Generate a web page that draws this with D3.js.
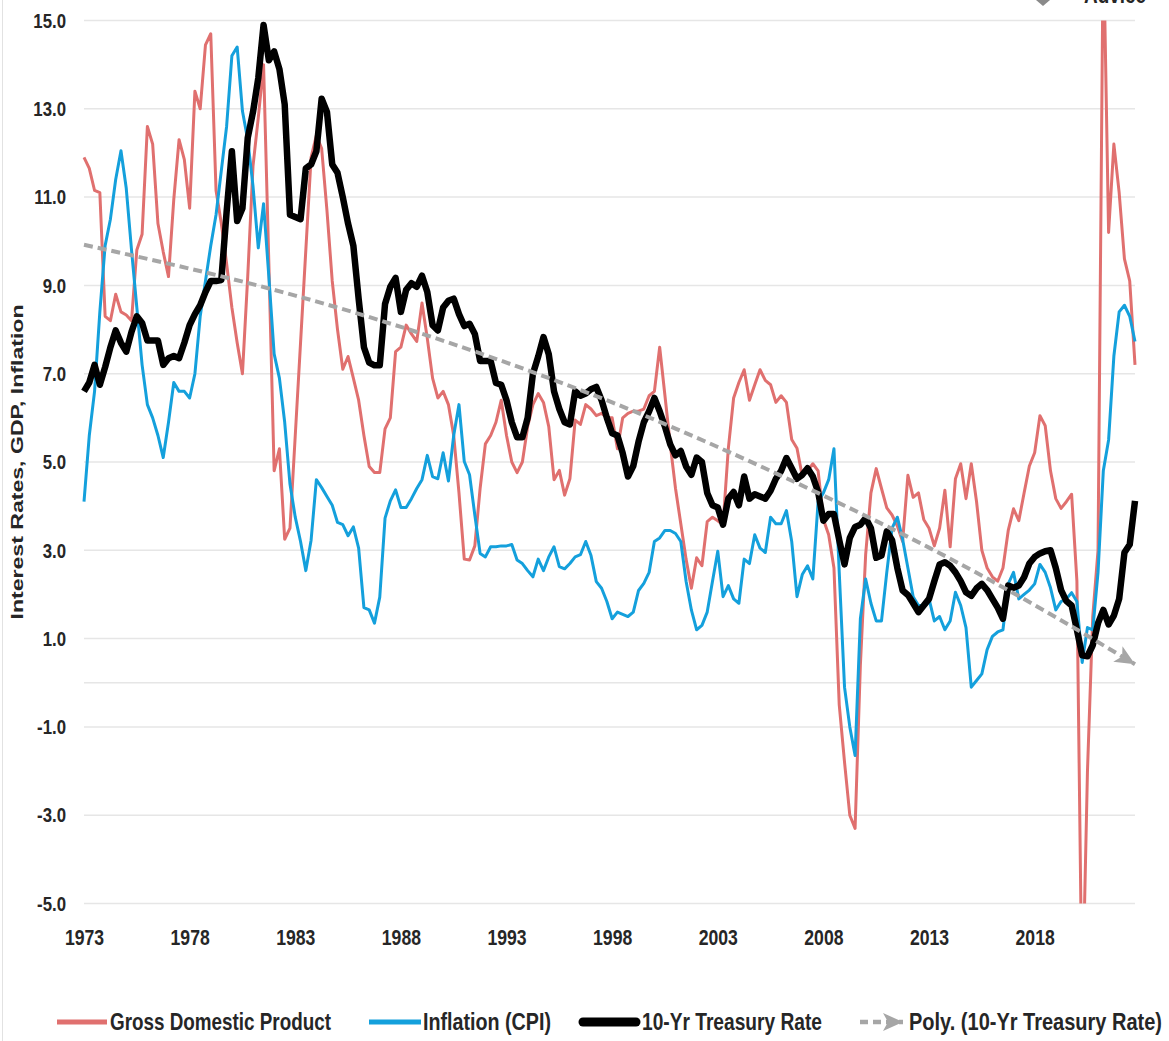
<!DOCTYPE html>
<html>
<head>
<meta charset="utf-8">
<script src="https://cdn.jsdelivr.net/npm/d3@7"></script>
<style>
  html, body { margin: 0; padding: 0; background: #fff; }
  svg { display: block; }
  text { font-family: "Liberation Sans", Arial, sans-serif; font-weight: bold; fill: #262626; }
  .xaxis .tick text { font-size: 22px; }
  .yaxis .tick text { font-size: 21px; }
  .legend text { font-size: 24px; }
  .ytitle { font-size: 16px; }
</style>
</head>
<body>
<div id="container"></div>
<script>
// quarterly data, 1973 Q1 .. 2022 Q4
var startYear = 1973
var yearLabels = ["1973", "1978", "1983", "1988", "1993", "1998", "2003", "2008", "2013", "2018"]
var yTicks = [15, 13, 11, 9, 7, 5, 3, 1, -1, -3, -5]
var seriesNames = ["Gross Domestic Product", "Inflation (CPI)", "10-Yr Treasury Rate", "Poly. (10-Yr Treasury Rate)"]

var gdp = [
  11.9, 11.65, 11.15, 11.1,   // 1973
  8.3, 8.2, 8.8, 8.4,
  8.33, 8.2, 9.8, 10.16,
  12.6, 12.2, 10.4, 9.76,
  9.2, 10.95, 12.3, 11.85,
  10.75, 13.4, 13.0, 14.45,   // 1978
  14.7, 11.15, 10.4, 9.5,
  8.5, 7.7, 7.0, 9.2,
  11.7, 12.8, 14.0, 9.5,
  4.8, 5.3, 3.25, 3.5,
  5.6, 7.7, 9.8, 11.9,        // 1983
  12.4, 12.1, 10.7, 9.1,
  8.0, 7.1, 7.39, 6.9,
  6.4, 5.6, 4.9, 4.76,
  4.76, 5.75, 6.0, 7.5,
  7.6, 8.1, 7.9, 7.73,        // 1988
  8.6, 7.8, 6.9, 6.45,
  6.6, 6.3, 5.6, 4.3,
  2.8, 2.78, 3.1, 4.4,
  5.41, 5.6, 5.9, 6.4,
  5.6, 5.0, 4.76, 5.0,        // 1993
  5.8, 6.3, 6.55, 6.35,
  5.8, 4.6, 4.81, 4.25,
  4.62, 5.95, 5.85, 6.3,
  6.2, 6.05, 6.1, 6.0,
  6.0, 5.3, 6.0, 6.1,         // 1998
  6.15, 6.15, 6.2, 6.5,
  6.6, 7.6, 6.5, 5.4,
  4.4, 3.6, 2.8, 2.14,
  2.83, 2.65, 3.65, 3.75,
  3.67, 3.58, 5.31, 6.45,     // 2003
  6.8, 7.09, 6.4, 6.75,
  7.09, 6.85, 6.75, 6.35,
  6.5, 6.35, 5.51, 5.31,
  4.68, 4.8, 4.96, 4.8,
  3.7, 3.35, 2.6, -0.5,       // 2008
  -1.8, -3.0, -3.3, 0.4,
  2.9, 4.3, 4.85, 4.4,
  3.96, 3.8, 3.55, 3.2,
  4.7, 4.2, 4.3, 3.7,
  3.5, 3.1, 3.5, 4.36,        // 2013
  3.08, 4.62, 4.96, 4.17,
  4.96, 4.1, 3.0, 2.6,
  2.4, 2.3, 2.6, 3.45,
  3.94, 3.67, 4.3, 4.91,
  5.21, 6.05, 5.82, 4.8,      // 2018
  4.17, 3.95, 4.1, 4.27,
  2.3, -7.5, -2.0, 1.5,
  3.0, 17.0, 10.2, 12.2,
  11.1, 9.6, 9.1, 7.2
]

var cpi = [
  4.1, 5.6, 6.6, 8.4,         // 1973
  9.9, 10.5, 11.4, 12.05,
  11.2, 9.8, 8.5, 7.2,
  6.3, 6.0, 5.6, 5.1,
  5.9, 6.8, 6.6, 6.6,
  6.45, 7.0, 8.3, 9.1,        // 1978
  9.9, 10.6, 11.6, 12.6,
  14.2, 14.4, 12.95, 12.3,
  11.25, 9.85, 10.85, 9.2,
  7.45, 6.9, 5.9, 4.5,
  3.75, 3.2, 2.54, 3.23,      // 1983
  4.6, 4.42, 4.22, 4.02,
  3.63, 3.58, 3.33, 3.53,
  3.05, 1.7, 1.65, 1.35,
  1.94, 3.73, 4.12, 4.37,
  3.97, 3.97, 4.17, 4.4,      // 1988
  4.6, 5.15, 4.67, 4.62,
  5.21, 4.57, 5.6, 6.3,
  5.01, 4.71, 3.8, 2.93,
  2.85, 3.08, 3.08, 3.1,
  3.1, 3.13, 2.78, 2.7,       // 1993
  2.54, 2.4, 2.8, 2.54,
  2.85, 3.08, 2.63, 2.58,
  2.7, 2.85, 2.9, 3.2,
  2.88, 2.29, 2.14, 1.84,
  1.45, 1.6, 1.55, 1.5,       // 1998
  1.6, 2.09, 2.25, 2.5,
  3.2, 3.28, 3.45, 3.45,
  3.38, 3.2, 2.3, 1.65,
  1.2, 1.3, 1.6, 2.3,
  2.98, 1.95, 2.2, 1.9,       // 2003
  1.8, 2.8, 2.7, 3.35,
  3.05, 2.95, 3.75, 3.6,
  3.6, 3.9, 3.2, 1.95,
  2.45, 2.65, 2.35, 4.1,
  4.3, 4.6, 5.3, 2.5,         // 2008
  -0.1, -1.0, -1.65, 1.45,
  2.35, 1.8, 1.4, 1.4,
  2.5, 3.5, 3.75, 3.25,
  2.6, 1.95, 1.75, 1.75,
  1.9, 1.4, 1.5, 1.2,         // 2013
  1.4, 2.05, 1.75, 1.25,
  -0.1, 0.05, 0.2, 0.75,
  1.05, 1.15, 1.2, 2.24,
  2.5, 1.9, 2.0, 2.1,
  2.24, 2.68, 2.5, 2.15,      // 2018
  1.65, 1.84, 1.9, 2.04,
  1.84, 0.46, 1.25, 1.2,
  2.5, 4.8, 5.5, 7.4,
  8.4, 8.55, 8.3, 7.73
]

var treasury = [
  6.6, 6.8, 7.2, 6.75,        // 1973
  7.15, 7.6, 7.98, 7.7,
  7.5, 7.95, 8.3, 8.15,
  7.75, 7.75, 7.75, 7.2,
  7.35, 7.4, 7.35, 7.7,
  8.1, 8.35, 8.55, 8.85,      // 1978
  9.1, 9.1, 9.12, 10.66,
  12.04, 10.46, 10.75, 12.34,
  12.93, 13.7, 14.9, 14.1,
  14.3, 13.9, 13.1, 10.6,
  10.55, 10.5, 11.65, 11.74,  // 1983
  12.04, 13.23, 12.93, 11.74,
  11.55, 11.0, 10.4, 9.9,
  8.7, 7.6, 7.25, 7.19,
  7.19, 8.58, 8.97, 9.17,
  8.4, 8.9, 9.05, 8.97,       // 1988
  9.22, 8.85, 8.1, 7.98,
  8.5, 8.65, 8.7, 8.35,
  8.08, 8.13, 7.9, 7.29,
  7.29, 7.29, 6.79, 6.75,
  6.4, 5.9, 5.56, 5.56,       // 1993
  6.0, 7.0, 7.39, 7.83,
  7.44, 6.6, 6.2, 5.9,
  5.85, 6.6, 6.5, 6.55,
  6.65, 6.7, 6.4, 6.0,
  5.65, 5.6, 5.2, 4.67,       // 1998
  4.91, 5.46, 5.9, 6.15,
  6.45, 6.15, 5.8, 5.4,
  5.15, 5.25, 4.9, 4.71,
  5.1, 5.0, 4.3, 4.02,
  3.97, 3.58, 4.17, 4.32,     // 2003
  4.02, 4.67, 4.17, 4.27,
  4.22, 4.17, 4.35, 4.62,
  4.8, 5.09, 4.86, 4.62,
  4.71, 4.86, 4.67, 4.32,
  3.67, 3.82, 3.82, 3.23,     // 2008
  2.68, 3.28, 3.53, 3.58,
  3.73, 3.5, 2.83, 2.88,
  3.43, 3.23, 2.6, 2.09,
  1.99, 1.8, 1.6, 1.75,
  1.9, 2.3, 2.68, 2.73,       // 2013
  2.65, 2.5, 2.3, 2.05,
  1.97, 2.14, 2.24, 2.1,
  1.9, 1.7, 1.45, 2.2,
  2.15, 2.2, 2.39, 2.7,
  2.85, 2.93, 2.98, 3.0,      // 2018
  2.6, 2.1, 1.85, 1.75,
  1.2, 0.62, 0.6, 0.85,
  1.35, 1.65, 1.32, 1.52,
  1.9, 2.95, 3.13, 4.12
]

// polynomial trend of the 10-yr rate, read at the label quarters
var trendQuarter = [0, 20, 40, 60, 80, 100, 120, 140, 160, 180, 199]
var trendValue = [9.92, 9.38, 8.77, 8.06, 7.25, 6.35, 5.34, 4.24, 3.06, 1.76, 0.42]

var colors = { gdp: "#E0706F", cpi: "#14A0DC", treasury: "#000000", trend: "#A6A6A6" }

var width = 1169, height = 1041
var plot = { left: 84, right: 1135, top: 20.5, bottom: 903.5 }
var narrow = 0.8 // squeeze factor to get a condensed bold face

function condense(sel, factor) {
  sel.each(function () {
    var w = this.getComputedTextLength()
    d3.select(this)
      .attr("textLength", w * factor)
      .attr("lengthAdjust", "spacingAndGlyphs")
  })
}

var svg = d3.select("#container").append("svg")
  .attr("width", width)
  .attr("height", height)

svg.append("rect").attr("width", width).attr("height", height).attr("fill", "#fff")

// faint chart border on the left
svg.append("line")
  .attr("x1", 2.5).attr("x2", 2.5).attr("y1", 0).attr("y2", height)
  .attr("stroke", "#e2e2e2").attr("stroke-width", 1)

var defs = svg.append("defs")
defs.append("clipPath").attr("id", "plotClip")
  .append("rect")
  .attr("x", plot.left - 4).attr("y", plot.top)
  .attr("width", plot.right - plot.left + 8).attr("height", plot.bottom - plot.top)

defs.append("marker")
  .attr("id", "arrowhead")
  .attr("viewBox", "0 0 10 10")
  .attr("refX", 10).attr("refY", 5)
  .attr("markerUnits", "userSpaceOnUse")
  .attr("markerWidth", 20).attr("markerHeight", 18)
  .attr("preserveAspectRatio", "none")
  .attr("orient", "auto")
  .append("path")
  .attr("d", "M0,0 L10,5 L0,10 L2.5,5 Z")
  .attr("fill", colors.trend)

var x = d3.scaleLinear().domain([0, gdp.length - 1]).range([plot.left, plot.right])
var y = d3.scaleLinear().domain([-5, 15]).range([plot.bottom, plot.top])

// gridlines (plus the zero line)
svg.append("g").attr("class", "grid")
  .selectAll("line")
  .data(yTicks.concat([0]))
  .enter().append("line")
  .attr("x1", plot.left).attr("x2", plot.right)
  .attr("y1", d => y(d)).attr("y2", d => y(d))
  .attr("stroke", "#e6e6e6")
  .attr("stroke-width", 1.5)

// axes
var yAxis = d3.axisLeft(y)
  .tickValues(yTicks)
  .tickFormat(d => d.toFixed(1))
  .tickSize(0)
  .tickPadding(18)

svg.append("g")
  .attr("class", "yaxis")
  .attr("transform", "translate(" + plot.left + ",0)")
  .call(yAxis)
  .call(g => g.select(".domain").remove())

var xAxis = d3.axisBottom(x)
  .tickValues(yearLabels.map((d, i) => i * 20))
  .tickFormat((d, i) => yearLabels[i])
  .tickSize(0)
  .tickPadding(26)

svg.append("g")
  .attr("class", "xaxis")
  .attr("transform", "translate(0," + plot.bottom + ")")
  .call(xAxis)
  .call(g => g.select(".domain").remove())

svg.selectAll(".tick text").attr("fill", "#262626").call(condense, narrow)

svg.append("text")
  .attr("class", "ytitle")
  .attr("transform", "translate(23,462) rotate(-90)")
  .attr("text-anchor", "middle")
  .attr("textLength", 315)
  .attr("lengthAdjust", "spacingAndGlyphs")
  .text("Interest Rates, GDP, Inflation")

// series
var line = d3.line()
  .x((d, i) => x(i))
  .y(d => y(d))

var lines = svg.append("g").attr("clip-path", "url(#plotClip)")

lines.append("path")
  .datum(gdp)
  .attr("d", line)
  .attr("fill", "none")
  .attr("stroke", colors.gdp)
  .attr("stroke-width", 3)
  .attr("stroke-linejoin", "round")

lines.append("path")
  .datum(cpi)
  .attr("d", line)
  .attr("fill", "none")
  .attr("stroke", colors.cpi)
  .attr("stroke-width", 3)
  .attr("stroke-linejoin", "round")

lines.append("path")
  .datum(treasury)
  .attr("d", line)
  .attr("fill", "none")
  .attr("stroke", colors.treasury)
  .attr("stroke-width", 6.5)
  .attr("stroke-linejoin", "round")

var trendLine = d3.line()
  .x((d, i) => x(trendQuarter[i]))
  .y(d => y(d))
  .curve(d3.curveNatural)

lines.append("path")
  .datum(trendValue)
  .attr("d", trendLine)
  .attr("fill", "none")
  .attr("stroke", colors.trend)
  .attr("stroke-width", 4)
  .attr("stroke-dasharray", "9,5")
  .attr("marker-end", "url(#arrowhead)")

// legend
var legendY = 1022
var legendItems = [
  { name: seriesNames[0], x0: 57, x1: 107, tx: 110, tw: 221, color: colors.gdp, w: 5 },
  { name: seriesNames[1], x0: 369, x1: 421, tx: 423, tw: 128, color: colors.cpi, w: 5 },
  { name: seriesNames[2], x0: 583, x1: 636, tx: 642, tw: 180, color: colors.treasury, w: 9, cap: "round" },
  { name: seriesNames[3], x0: 860, x1: 903, tx: 909, tw: 253, color: colors.trend, w: 4.5, dash: "8,5", arrow: true }
]

var legend = svg.append("g").attr("class", "legend")
legendItems.forEach(function (it) {
  var ln = legend.append("line")
    .attr("x1", it.x0).attr("x2", it.x1)
    .attr("y1", legendY).attr("y2", legendY)
    .attr("stroke", it.color)
    .attr("stroke-width", it.w)
    .attr("stroke-linecap", it.cap || "butt")
  if (it.dash) ln.attr("stroke-dasharray", it.dash)
  if (it.arrow) ln.attr("marker-end", "url(#arrowhead)")
  legend.append("text")
    .attr("x", it.tx)
    .attr("y", legendY)
    .attr("dy", "0.35em")
    .attr("textLength", it.tw)
    .attr("lengthAdjust", "spacingAndGlyphs")
    .text(it.name)
})

// logo remnant at the top edge
svg.append("path")
  .attr("d", "M1036,0 L1050,0 L1043,6 Z")
  .attr("fill", "#8a8a8a")
svg.append("text")
  .attr("x", 1084).attr("y", 3)
  .attr("font-size", 24)
  .attr("fill", "#333")
  .attr("textLength", 62)
  .attr("lengthAdjust", "spacingAndGlyphs")
  .text("Advice")
</script>
</body>
</html>
